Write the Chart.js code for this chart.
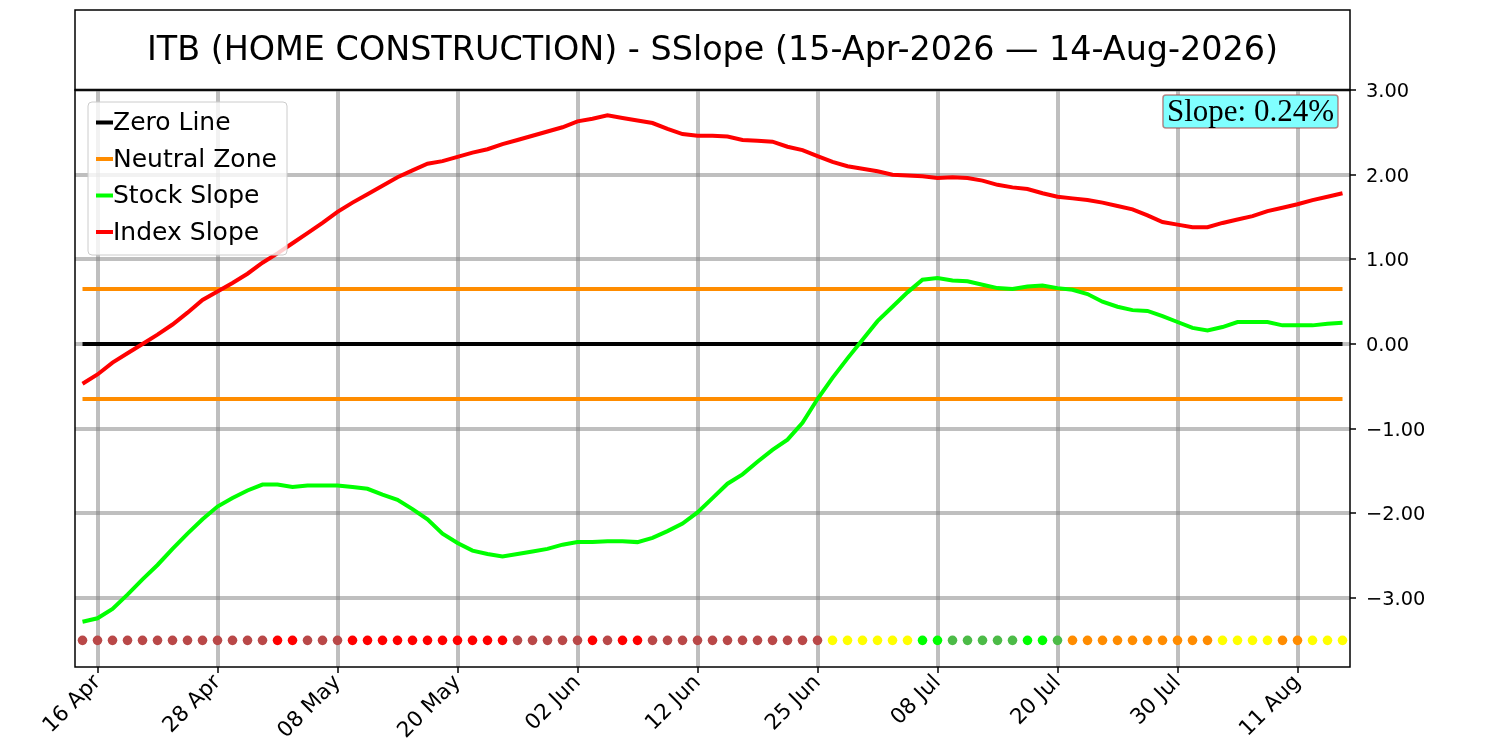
<!DOCTYPE html>
<html>
<head>
<meta charset="utf-8">
<title>ITB SSlope</title>
<script src="https://cdn.jsdelivr.net/npm/chart.js@4.4.1/dist/chart.umd.min.js"></script>
<style>
  html, body { margin: 0; padding: 0; background: #fff; }
  canvas { display: block; }
</style>
</head>
<body>
<canvas id="chart" width="1500" height="750"></canvas>
<script>
// trading days, 15 Apr 2026 .. 14 Aug 2026
const DAYS = [
  '15 Apr', '16 Apr', '17 Apr', '20 Apr', '21 Apr', '22 Apr', '23 Apr', '24 Apr', '27 Apr', '28 Apr',
  '29 Apr', '30 Apr', '01 May', '04 May', '05 May', '06 May', '07 May', '08 May', '11 May', '12 May',
  '13 May', '14 May', '15 May', '18 May', '19 May', '20 May', '21 May', '22 May', '26 May', '27 May',
  '28 May', '29 May', '01 Jun', '02 Jun', '03 Jun', '04 Jun', '05 Jun', '08 Jun', '09 Jun', '10 Jun',
  '11 Jun', '12 Jun', '15 Jun', '16 Jun', '17 Jun', '18 Jun', '22 Jun', '23 Jun', '24 Jun', '25 Jun',
  '26 Jun', '29 Jun', '30 Jun', '01 Jul', '02 Jul', '06 Jul', '07 Jul', '08 Jul', '09 Jul', '10 Jul',
  '13 Jul', '14 Jul', '15 Jul', '16 Jul', '17 Jul', '20 Jul', '21 Jul', '22 Jul', '23 Jul', '24 Jul',
  '27 Jul', '28 Jul', '29 Jul', '30 Jul', '31 Jul', '03 Aug', '04 Aug', '05 Aug', '06 Aug', '07 Aug',
  '10 Aug', '11 Aug', '12 Aug', '13 Aug', '14 Aug'
];
const TICK_LABELS = ['16 Apr', '28 Apr', '08 May', '20 May', '02 Jun', '12 Jun', '25 Jun', '08 Jul', '20 Jul', '30 Jul', '11 Aug'];
const Y_TICKS = [3, 2, 1, 0, -1, -2, -3];

const STOCK_SLOPE = [
  -3.28, -3.24, -3.13, -2.96, -2.78, -2.61, -2.42, -2.24, -2.07, -1.92,
  -1.82, -1.73, -1.66, -1.66, -1.69, -1.67, -1.67, -1.67, -1.69, -1.71,
  -1.78, -1.84, -1.95, -2.07, -2.24, -2.35, -2.44, -2.48, -2.51, -2.48,
  -2.45, -2.42, -2.37, -2.34, -2.34, -2.33, -2.33, -2.34, -2.29, -2.21,
  -2.12, -1.99, -1.82, -1.65, -1.54, -1.39, -1.25, -1.13, -0.93, -0.65,
  -0.40, -0.17, 0.05, 0.27, 0.44, 0.61, 0.76, 0.78, 0.75, 0.74,
  0.70, 0.66, 0.65, 0.68, 0.69, 0.66, 0.64, 0.59, 0.50, 0.44,
  0.40, 0.39, 0.33, 0.26, 0.19, 0.16, 0.20, 0.26, 0.26, 0.26,
  0.22, 0.22, 0.22, 0.24, 0.25
];
const INDEX_SLOPE = [
  -0.47, -0.36, -0.22, -0.11, 0.00, 0.11, 0.23, 0.37, 0.52, 0.62,
  0.72, 0.83, 0.96, 1.07, 1.19, 1.31, 1.43, 1.56, 1.67, 1.77,
  1.87, 1.97, 2.05, 2.13, 2.16, 2.21, 2.26, 2.30, 2.36, 2.41,
  2.46, 2.51, 2.56, 2.63, 2.66, 2.70, 2.67, 2.64, 2.61, 2.54,
  2.48, 2.46, 2.46, 2.45, 2.41, 2.40, 2.39, 2.33, 2.29, 2.22,
  2.15, 2.10, 2.07, 2.04, 2.00, 1.99, 1.98, 1.96, 1.97, 1.96,
  1.93, 1.88, 1.85, 1.83, 1.78, 1.74, 1.72, 1.70, 1.67, 1.63,
  1.59, 1.52, 1.44, 1.41, 1.38, 1.38, 1.43, 1.47, 1.51, 1.57,
  1.61, 1.65, 1.70, 1.74, 1.78
];
// daily signal dots along the bottom
const SIGNAL = ('BBBBBBBBBBBBB RR BBB RRRRRRRRRRR BBBBB R B RR BBBBBBBBBBBB ' +
  'YYYYYY GG MMMMM GG M OOOOOOOOOO YYYY OO YYY').replace(/ /g, '').split('');
const SIGNAL_COLORS = { B: '#B94848', R: '#FF0000', Y: '#FFFF00', G: '#00FF00', M: '#4CBB47', O: '#FF8C00' };

const ZERO = 0;
const NEUTRAL = 0.65;
const SIGNAL_LEVEL = -3.5;
const TITLE = 'ITB (HOME CONSTRUCTION) - SSlope (15-Apr-2026 \u2014 14-Aug-2026)';
const SLOPE_TEXT = 'Slope: 0.24%';

const FONT = "'DejaVu Sans'";
const last = DAYS.length - 1;
const series = arr => arr.map((v, i) => ({ x: i, y: v }));
const flat = v => [{ x: 0, y: v }, { x: last, y: v }];

const LEGEND = [
  { label: 'Zero Line', color: '#000000' },
  { label: 'Neutral Zone', color: '#FF8C00' },
  { label: 'Stock Slope', color: '#00FF00' },
  { label: 'Index Slope', color: '#FF0000' }
];

const decor = {
  id: 'decor',
  afterDraw(chart) {
    const ctx = chart.ctx;
    const a = chart.chartArea;
    ctx.save();

    // title box
    ctx.strokeStyle = '#000';
    ctx.lineWidth = 1.5;
    ctx.strokeRect(a.left, 10, a.right - a.left, a.top - 10);
    ctx.fillStyle = '#000';
    ctx.font = '33.4px ' + FONT;
    ctx.textAlign = 'center';
    ctx.textBaseline = 'middle';
    ctx.fillText(TITLE, (a.left + a.right) / 2, 51);

    // axes frame
    ctx.strokeRect(a.left, a.top, a.right - a.left, a.bottom - a.top);

    // legend
    const lx = a.left + 13, ly = a.top + 12, lw = 199, lh = 153;
    ctx.beginPath();
    ctx.roundRect(lx, ly, lw, lh, 4);
    ctx.fillStyle = 'rgba(255,255,255,0.8)';
    ctx.fill();
    ctx.strokeStyle = '#cccccc';
    ctx.lineWidth = 1;
    ctx.stroke();
    ctx.font = '25px ' + FONT;
    ctx.textAlign = 'left';
    LEGEND.forEach((item, k) => {
      const y = ly + 20.5 + k * 36.5;
      ctx.strokeStyle = item.color;
      ctx.lineWidth = 4;
      ctx.beginPath();
      ctx.moveTo(lx + 8, y);
      ctx.lineTo(lx + 25, y);
      ctx.stroke();
      ctx.fillStyle = '#000';
      ctx.fillText(item.label, lx + 25, y + 1);
    });

    // slope badge
    ctx.font = '31px "Liberation Serif"';
    const tw = ctx.measureText(SLOPE_TEXT).width;
    const bx = a.right - 12 - tw - 8, by = a.top + 5, bw = tw + 8, bh = 33;
    ctx.beginPath();
    ctx.roundRect(bx, by, bw, bh, 3);
    ctx.fillStyle = '#80FFFF';
    ctx.fill();
    ctx.strokeStyle = 'rgba(160,40,40,0.55)';
    ctx.lineWidth = 1.5;
    ctx.stroke();
    ctx.fillStyle = '#000';
    ctx.textBaseline = 'middle';
    ctx.fillText(SLOPE_TEXT, bx + 4, by + bh / 2 + 1);

    ctx.restore();
  }
};

const gridStyle = {
  color: 'rgba(128,128,128,0.5)',
  lineWidth: 4,
  tickColor: '#000',
  tickLength: 6,
  tickWidth: 1.5
};

new Chart(document.getElementById('chart'), {
  type: 'line',
  data: {
    datasets: [
      { label: 'Index Slope', data: series(INDEX_SLOPE), borderColor: '#FF0000', borderWidth: 4, pointRadius: 0, order: 1 },
      { label: 'Stock Slope', data: series(STOCK_SLOPE), borderColor: '#00FF00', borderWidth: 4, pointRadius: 0, order: 2 },
      { label: 'Neutral Zone', data: flat(NEUTRAL), borderColor: '#FF8C00', borderWidth: 4, pointRadius: 0, order: 3 },
      { label: 'Neutral Zone low', data: flat(-NEUTRAL), borderColor: '#FF8C00', borderWidth: 4, pointRadius: 0, order: 3 },
      { label: 'Zero Line', data: flat(ZERO), borderColor: '#000000', borderWidth: 4, pointRadius: 0, order: 4 },
      {
        label: 'Signal',
        data: DAYS.map((d, i) => ({ x: i, y: SIGNAL_LEVEL })),
        showLine: false,
        pointRadius: 4.8,
        pointBorderWidth: 0,
        pointBackgroundColor: SIGNAL.map(s => SIGNAL_COLORS[s]),
        order: 5
      }
    ]
  },
  options: {
    responsive: false,
    devicePixelRatio: 1,
    animation: false,
    layout: { padding: { left: 75, top: 90, right: 0, bottom: 0 } },
    plugins: { legend: { display: false }, tooltip: { enabled: false }, title: { display: false } },
    scales: {
      x: {
        type: 'linear',
        min: -0.5,
        max: last + 0.5,
        grid: gridStyle,
        border: { display: false },
        afterBuildTicks: s => { s.ticks = TICK_LABELS.map(t => ({ value: DAYS.indexOf(t) })); },
        afterFit: s => { s.height = 83; },
        ticks: {
          autoSkip: false,
          minRotation: 45,
          maxRotation: 45,
          padding: -3,
          color: '#000',
          font: { family: FONT, size: 21.5 },
          callback: v => DAYS[v]
        }
      },
      y: {
        position: 'right',
        min: -3.815,
        max: 3.0,
        grid: gridStyle,
        border: { display: false },
        afterBuildTicks: s => { s.ticks = Y_TICKS.map(v => ({ value: v })); },
        afterFit: s => { s.width = 150; },
        ticks: {
          padding: 10,
          labelOffset: 2,
          color: '#000',
          font: { family: FONT, size: 19.4 },
          callback: v => (v < 0 ? '\u2212' : '') + Math.abs(v).toFixed(2)
        }
      }
    }
  },
  plugins: [decor]
});
</script>
</body>
</html>
